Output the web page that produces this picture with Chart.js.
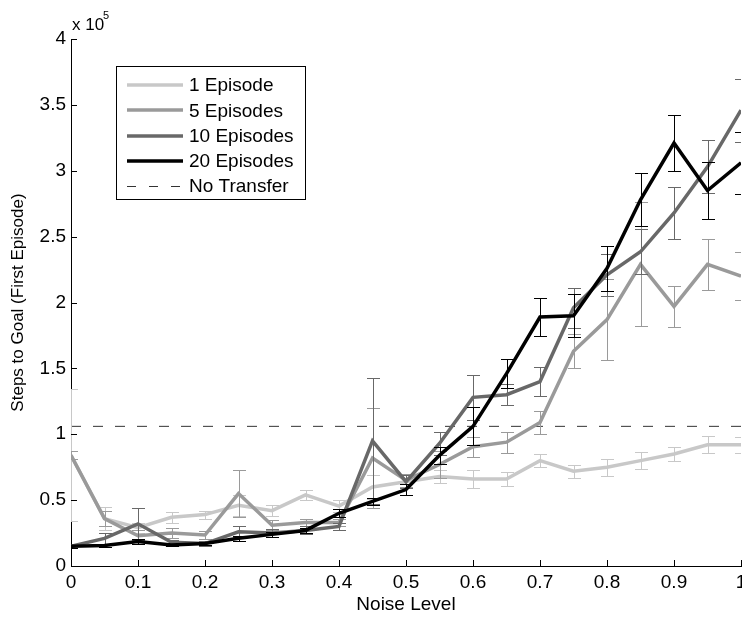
<!DOCTYPE html>
<html><head><meta charset="utf-8">
<script src="https://cdn.jsdelivr.net/npm/chart.js@4/dist/chart.umd.min.js"></script>
<style>html,body{margin:0;padding:0;background:#fff;}#wrap{width:742px;height:619px;}</style>
</head><body><div id="wrap"><canvas id="c" width="742" height="619"></canvas></div>
<script>
// ---- data ----
const noise = [0,0.05,0.1,0.15,0.2,0.25,0.3,0.35,0.4,0.45,0.5,0.55,0.6,0.65,0.7,0.75,0.8,0.85,0.9,0.95,1];

const ep1    = [84000,36000,29000,37000,39000,46000,42000,54000,45500,60000,64000,68000,66000,66000,80000,72000,75000,80000,85000,92000,92000];
const ep1Err = [50000,9000,4000,4000,3000,8000,4000,4000,4500,9000,5000,5000,7000,5000,5000,5000,6500,6500,5000,6500,6000];

const ep5    = [84000,36000,23000,25000,23500,55000,31000,33000,33000,82000,65000,77000,90500,94000,109000,163000,187000,229000,197000,229000,220000];
const ep5Err = [3000,6000,4000,4000,3000,18000,4000,3000,3000,38000,5000,10000,7500,8000,8500,13000,31000,47000,15500,19500,18000];

const ep10    = [15000,21000,32000,18000,17000,26000,25000,27000,30000,95000,64000,93000,128000,130000,140000,196000,221000,238500,268000,303000,346000];
const ep10Err = [1000,4000,12000,2000,2000,4000,3000,3000,3000,48000,5000,9000,17000,8000,11000,15000,16000,17000,20000,20000,24000];

const ep20    = [15000,15500,18500,16000,17000,21000,24000,27000,40000,49000,58000,84000,106000,146000,189000,190000,226000,278000,321000,285000,306000];
const ep20Err = [1000,1000,2000,1000,1000,2000,2000,2000,3000,2500,4000,6500,14500,11000,14500,16500,17000,20000,21000,22000,23500];

const noTransfer = 106000;

const xTicks = [0,0.1,0.2,0.3,0.4,0.5,0.6,0.7,0.8,0.9,1];
const xTickLabels = ['0','0.1','0.2','0.3','0.4','0.5','0.6','0.7','0.8','0.9','1'];
const yTicks = [0,50000,100000,150000,200000,250000,300000,350000,400000];
const yTickLabels = ['0','0.5','1','1.5','2','2.5','3','3.5','4'];

const seriesNames = ['1 Episode','5 Episodes','10 Episodes','20 Episodes','No Transfer'];
const seriesColors = ['#c8c8c8','#9a9a9a','#686868','#000000','#333333'];

// ---- chart ----
const FONT = '"Liberation Sans", Arial, Helvetica, sans-serif';
const pts = arr => arr.map((v,i)=>({x:noise[i], y:v}));

function lineDs(idx, vals, errs, order){
  return {label:seriesNames[idx], data:pts(vals), errors:errs, borderColor:seriesColors[idx],
    borderWidth:3.5, pointRadius:0, fill:false, tension:0, order:order, borderJoinStyle:'miter'};
}

const errorBarPlugin = {
  id:'errbars',
  afterDatasetDraw(chart, args){
    const ds = chart.data.datasets[args.index];
    if(!ds.errors) return;
    const {ctx, chartArea:a} = chart;
    const xs = chart.scales.x, ys = chart.scales.y;
    ctx.save();
    ctx.beginPath(); ctx.rect(a.left, a.top, a.right-a.left, a.bottom-a.top); ctx.clip();
    ctx.strokeStyle = ds.borderColor; ctx.lineWidth = 1;
    ds.data.forEach((p,i)=>{
      const e = ds.errors[i];
      const px = Math.round(xs.getPixelForValue(p.x)) + 0.5;
      const yt = Math.round(ys.getPixelForValue(p.y + e)) + 0.5;
      const yb = Math.round(ys.getPixelForValue(p.y - e)) + 0.5;
      ctx.beginPath();
      ctx.moveTo(px, yt); ctx.lineTo(px, yb);
      ctx.moveTo(px-6.5, yt); ctx.lineTo(px+6.5, yt);
      ctx.moveTo(px-6.5, yb); ctx.lineTo(px+6.5, yb);
      ctx.stroke();
    });
    ctx.restore();
  }
};

const decorPlugin = {
  id:'decor',
  afterDraw(chart){
    const {ctx, chartArea:a} = chart;
    const xs = chart.scales.x, ys = chart.scales.y;
    ctx.save();
    // inward ticks
    ctx.strokeStyle = '#000'; ctx.lineWidth = 1;
    ctx.beginPath();
    xTicks.forEach(v=>{ const px = Math.round(xs.getPixelForValue(v))+0.5; ctx.moveTo(px, a.bottom); ctx.lineTo(px, a.bottom-6); });
    yTicks.forEach(v=>{ const py = Math.round(ys.getPixelForValue(v))+0.5; ctx.moveTo(a.left, py); ctx.lineTo(a.left+6, py); });
    ctx.stroke();
    // exponent label
    ctx.fillStyle = '#000'; ctx.textBaseline = 'alphabetic'; ctx.textAlign = 'left';
    ctx.font = '17px ' + FONT; ctx.fillText('x 10', 72, 30);
    ctx.font = '11px ' + FONT; ctx.fillText('5', 103, 19);
    // legend
    const L = 116, T = 66, R = 305, B = 199;
    ctx.fillStyle = '#fff'; ctx.fillRect(L, T, R-L, B-T);
    ctx.strokeStyle = '#000'; ctx.lineWidth = 1; ctx.strokeRect(L+0.5, T+0.5, R-L, B-T);
    ctx.font = '19px ' + FONT; ctx.textBaseline = 'middle';
    seriesNames.forEach((n,i)=>{
      const y = 85 + i*25.3;
      ctx.strokeStyle = seriesColors[i];
      if(i===4){ ctx.lineWidth = 1; ctx.setLineDash([9,13]); }
      else { ctx.lineWidth = 3.5; ctx.setLineDash([]); }
      ctx.beginPath(); ctx.moveTo(127, Math.round(y)+ (i===4?0.5:0)); ctx.lineTo(183, Math.round(y)+(i===4?0.5:0)); ctx.stroke();
      ctx.setLineDash([]);
      ctx.fillStyle = '#000'; ctx.fillText(n, 189, y+1);
    });
    ctx.restore();
  }
};

new Chart(document.getElementById('c'), {
  type:'line',
  data:{datasets:[
    {label:seriesNames[4], data:noise.map(x=>({x:x, y:noTransfer})), borderColor:seriesColors[4], borderWidth:1,
      borderDash:[10,12], pointRadius:0, fill:false, order:10},
    lineDs(0, ep1, ep1Err, 4),
    lineDs(1, ep5, ep5Err, 3),
    lineDs(2, ep10, ep10Err, 2),
    lineDs(3, ep20, ep20Err, 1)
  ]},
  options:{
    responsive:false, animation:false, devicePixelRatio:1,
    layout:{padding:{top:39, right:1, left:0, bottom:0}},
    plugins:{legend:{display:false}, tooltip:{enabled:false}},
    scales:{
      x:{type:'linear', min:0, max:1,
        afterBuildTicks(s){ s.ticks = xTicks.map(v=>({value:v})); },
        afterFit(s){ s.height = 53; s.paddingLeft = 0; s.paddingRight = 0; },
        grid:{display:false, drawTicks:false},
        border:{display:true, color:'#000', width:1},
        ticks:{color:'#000', font:{family:FONT, size:19}, padding:5, maxRotation:0, autoSkip:false,
          callback:(v,i)=>xTickLabels[i]},
        title:{display:true, text:'Noise Level', color:'#000', font:{family:FONT, size:19}, padding:{top:0, bottom:3}}
      },
      y:{type:'linear', min:0, max:400000,
        afterBuildTicks(s){ s.ticks = yTicks.map(v=>({value:v})); },
        afterFit(s){ s.width = 71; s.paddingTop = 0; s.paddingBottom = 0; },
        grid:{display:false, drawTicks:false},
        border:{display:true, color:'#000', width:1},
        ticks:{color:'#000', font:{family:FONT, size:19}, padding:5, autoSkip:false,
          callback:(v,i)=>yTickLabels[i]},
        title:{display:true, text:'Steps to Goal (First Episode)', color:'#000', font:{family:FONT, size:17}, padding:{top:8, bottom:0}}
      }
    }
  },
  plugins:[errorBarPlugin, decorPlugin]
});
</script></body></html>
